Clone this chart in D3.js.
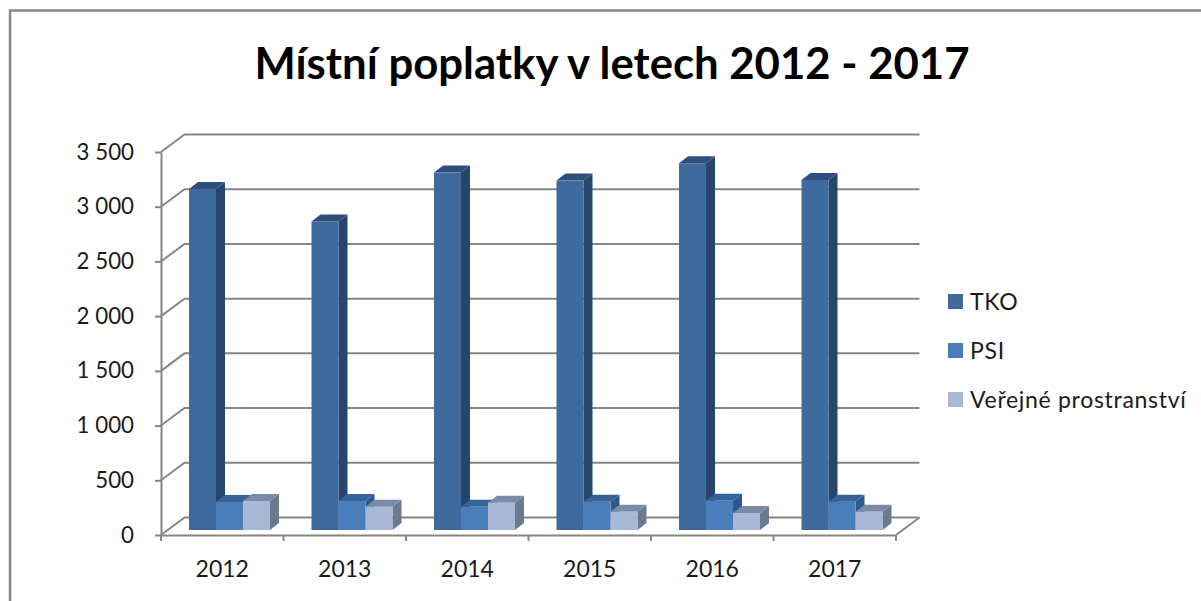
<!DOCTYPE html>
<html>
<head>
<meta charset="utf-8">
<script src="https://cdn.jsdelivr.net/npm/d3@7"></script>
<style>
  html, body { margin: 0; padding: 0; background: #fff; overflow: hidden; }
  text { font-family: Lato, "Open Sans", sans-serif; fill: #1a1a1a; }
  .domain, .tick line { stroke: #868686; stroke-width: 2; }
</style>
</head>
<body>
<script>
var title = "Místní poplatky v letech 2012 - 2017";
var years = ["2012", "2013", "2014", "2015", "2016", "2017"];
var seriesNames = ["TKO", "PSI", "Veřejné prostranství"];
var tko = [3117, 2820, 3266, 3193, 3352, 3199];
var psi = [256, 265, 213, 259, 268, 259];
var verejne = [265, 213, 250, 167, 155, 167];
var yTicks = [0, 500, 1000, 1500, 2000, 2500, 3000, 3500];

var seriesValues = [tko, psi, verejne];
// front, side, top of each 3D column
var faceColors = [
  {front: "#3e6a9e", side: "#28456d", top: "#2e4f7c"},
  {front: "#4a7ebb", side: "#2c5a8e", top: "#376298"},
  {front: "#a8b9d8", side: "#6a7a90", top: "#7b8aa6"}
];

var width = 1201, height = 601;

var svg = d3.select("body")
    .append("svg")
    .attr("width", width)
    .attr("height", height);

// Chart frame, only left and top edges are in the picture
svg.append("path")
    .attr("d", "M10,601V10.5H1201")
    .attr("fill", "none")
    .attr("stroke", "#868686")
    .attr("stroke-width", 2.5);

svg.append("text")
    .attr("x", 612)
    .attr("y", 79)
    .attr("text-anchor", "middle")
    .style("font-size", "43.7px")
    .style("font-weight", 700)
    .style("fill", "#000")
    .text(title);

// Scales, range [=] pixels on the front plane
var x = d3.scaleBand()
    .domain(years)
    .range([161, 896]);

var y = d3.scaleLinear()
    .domain([0, 3500])
    .range([535, 152]);

// Depth of the 3D wall and of the columns
var wall = {dx: 23.5, dy: -17.5};
var depth = {dx: 9, dy: -7};
var baseShift = {dx: 5.5, dy: -5};
var barWidth = 27;
var groupInset = 22.5;

// Back wall gridlines with their slanted part on the side wall
var grid = svg.append("g").attr("fill", "none").attr("stroke", "#868686").attr("stroke-width", 2);

grid.selectAll(".grid")
    .data(yTicks)
    .enter().append("path")
      .attr("class", "grid")
      .attr("d", function(d) {
        return "M" + x.range()[0] + "," + y(d) +
          "L" + (x.range()[0] + wall.dx) + "," + (y(d) + wall.dy) +
          "H" + (x.range()[1] + wall.dx);
      });

// Right edge of the floor
grid.append("path")
    .attr("d", "M" + x.range()[1] + "," + y(0) + "L" + (x.range()[1] + wall.dx) + "," + (y(0) + wall.dy));

// Axes
var yAxis = d3.axisLeft(y)
    .tickValues(yTicks)
    .tickSize(6)
    .tickSizeOuter(0)
    .tickPadding(21)
    .tickFormat(function(d) { return d3.format(",")(d).replace(",", " "); });

var xAxis = d3.axisBottom(x)
    .tickSize(0)
    .tickPadding(26);

var gy = svg.append("g")
    .attr("transform", "translate(" + x.range()[0] + ",0)")
    .call(yAxis);
gy.selectAll("text").style("font-size", "22.3px");

var gx = svg.append("g")
    .attr("transform", "translate(0," + y(0) + ")")
    .call(xAxis);
gx.selectAll("text").style("font-size", "23px");

// Category separators sit between the bands
gx.selectAll(".sep")
    .data(years.concat(["end"]))
    .enter().append("line")
      .attr("class", "sep")
      .attr("x1", function(d, i) { return x.range()[0] + i * x.step(); })
      .attr("x2", function(d, i) { return x.range()[0] + i * x.step(); })
      .attr("y1", 0)
      .attr("y2", 6)
      .attr("stroke", "#868686")
      .attr("stroke-width", 2);

// Columns
var rows = [];
years.forEach(function(year, i) {
  seriesValues.forEach(function(values, s) {
    rows.push({year: year, s: s, value: values[i]});
  });
});

var bars = svg.selectAll(".bar")
    .data(rows)
    .enter().append("g")
      .attr("class", "bar");

function barLeft(d) { return x(d.year) + groupInset + baseShift.dx + d.s * barWidth; }
function barTop(d) { return y(d.value) + baseShift.dy; }
function barBottom() { return y(0) + baseShift.dy; }

// Side and top first, the next column's front covers them
bars.append("path")
    .attr("fill", function(d) { return faceColors[d.s].side; })
    .attr("d", function(d) {
      var r = barLeft(d) + barWidth;
      return "M" + r + "," + barTop(d) +
        "l" + depth.dx + "," + depth.dy +
        "V" + (barBottom() + depth.dy) +
        "l" + (-depth.dx) + "," + (-depth.dy) + "Z";
    });

bars.append("path")
    .attr("fill", function(d) { return faceColors[d.s].top; })
    .attr("d", function(d) {
      return "M" + barLeft(d) + "," + barTop(d) +
        "l" + depth.dx + "," + depth.dy +
        "h" + barWidth +
        "l" + (-depth.dx) + "," + (-depth.dy) + "Z";
    });

bars.append("rect")
    .attr("x", barLeft)
    .attr("y", barTop)
    .attr("width", barWidth)
    .attr("height", function(d) { return barBottom() - barTop(d); })
    .attr("fill", function(d) { return faceColors[d.s].front; });

// Legend
var legend = svg.selectAll(".legend")
    .data(seriesNames)
    .enter().append("g")
      .attr("class", "legend")
      .attr("transform", function(d, i) { return "translate(948," + (294 + i * 49) + ")"; });

legend.append("rect")
    .attr("width", 15)
    .attr("height", 15)
    .attr("fill", function(d, i) { return faceColors[i].front; });

legend.append("text")
    .attr("x", 22)
    .attr("y", 16)
    .style("font-size", "23px")
    .style("letter-spacing", "0.7px")
    .text(function(d) { return d; });
</script>
</body>
</html>
